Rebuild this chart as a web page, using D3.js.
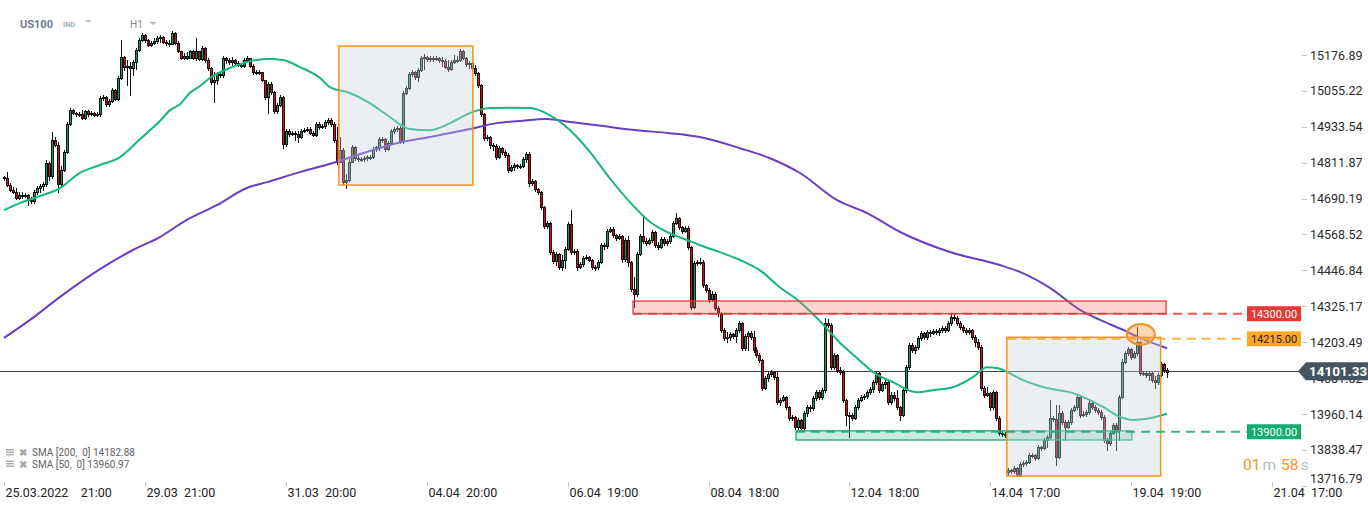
<!DOCTYPE html>
<html><head><meta charset="utf-8">
<script src="https://cdn.jsdelivr.net/npm/d3@7"></script>
<style>
html,body{margin:0;padding:0;background:#fff;overflow:hidden}
svg{display:block;font-family:Roboto,"Noto Sans",Arial,sans-serif}
</style></head><body>
<svg id="c" width="1368" height="509"></svg>
<script>
// ---- DATA (US100, H1) ----
const closes=[
14760,14736,14719,14712,14692,14702,14699,14702,14685,14682,
14712,14726,14733,14739,14811,14766,14888,14872,14739,14787,
14848,14943,14990,14980,14977,14977,14963,14987,14977,14980,
14973,14977,15031,15034,15010,15021,15058,15027,15099,15170,
15136,15139,15133,15153,15194,15227,15244,15227,15210,15217,
15224,15234,15238,15221,15217,15214,15251,15217,15190,15166,
15173,15166,15190,15166,15190,15163,15200,15160,15133,15085,
15092,15112,15109,15166,15160,15153,15160,15150,15143,15139,
15160,15166,15139,15119,15116,15119,15092,15034,15078,15051,
14987,15007,15034,14875,14919,14909,14912,14909,14899,14919,
14922,14926,14912,14905,14943,14933,14936,14950,14956,14943,
14888,14814,14855,14746,14753,14814,14865,14827,14824,14824,
14827,14831,14831,14858,14865,14892,14892,14858,14878,14919,
14926,14929,14885,15048,15065,15112,15119,15102,15126,15166,
15170,15163,15166,15163,15166,15160,15156,15136,15129,15153,
15160,15160,15190,15166,15146,15150,15133,15116,15075,14977,
14895,14899,14872,14868,14831,14861,14848,14838,14787,14797,
14804,14800,14800,14824,14841,14743,14750,14722,14712,14662,
14597,14607,14509,14478,14502,14458,14482,14519,14604,14509,
14512,14458,14468,14489,14492,14482,14458,14458,14475,14533,
14529,14580,14587,14567,14556,14563,14485,14550,14475,14384,
14367,14502,14563,14546,14540,14550,14577,14533,14526,14553,
14540,14546,14563,14607,14624,14594,14580,14590,14526,14323,
14472,14475,14475,14397,14380,14350,14367,14319,14302,14245,
14218,14221,14231,14224,14245,14268,14184,14224,14234,14221,
14177,14160,14143,14048,14082,14095,14102,14085,14001,14007,
14018,13984,13946,13950,13916,13940,13912,13963,13984,13980,
14014,14034,14018,14041,14268,14262,14119,14160,14109,14102,
14007,13957,13957,13946,13984,14007,14018,14021,14034,14045,
14068,14099,14041,14062,14068,14001,14024,14014,13984,13957,
14041,14119,14194,14177,14187,14218,14234,14221,14238,14234,
14241,14238,14245,14251,14245,14268,14289,14285,14268,14255,
14245,14238,14245,14221,14204,14187,14048,14024,14031,13984,
14034,13946,13896,13892,13889,
13770,13767,13777,13753,13790,13794,13797,13821,13821,13811,
13848,13845,13872,13882,13946,13943,13814,13963,13933,13916,
13933,13973,13984,14018,13957,13960,13967,13997,13984,13973,
13967,13950,13872,13862,13896,13923,13906,14018,14136,14167,
14180,14153,14167,14204,14099,14099,14092,14099,14075,14068,
14092,14129,14109,14101.33
];
const highs=[
14766,14780,14743,14729,14726,14712,14712,14709,14706,14695,
14719,14733,14739,14746,14821,14814,14916,14899,14882,14800,
14855,14950,14997,14994,14983,14983,14990,14990,14990,14987,
14983,14983,15038,15041,15038,15027,15065,15061,15105,15227,
15173,15160,15153,15160,15200,15234,15251,15248,15231,15224,
15234,15241,15244,15241,15227,15227,15258,15255,15224,15190,
15183,15187,15194,15194,15234,15177,15207,15204,15166,15136,
15119,15119,15119,15173,15170,15166,15170,15163,15156,15150,
15166,15173,15163,15146,15126,15126,15119,15089,15085,15085,
15055,15014,15041,15038,14926,14926,14919,14919,14919,14926,
14929,14933,14933,14919,14950,14950,14943,14956,14963,14963,
14950,14933,14899,14861,14773,14824,14872,14868,14841,14831,
14834,14838,14838,14865,14868,14899,14899,14895,14885,14926,
14933,14936,14936,15055,15072,15119,15126,15122,15133,15173,
15180,15173,15173,15173,15173,15170,15170,15163,15160,15160,
15177,15173,15197,15194,15170,15156,15153,15143,15119,15078,
14980,14905,14902,14878,14875,14868,14865,14855,14844,14804,
14811,14807,14807,14831,14848,14848,14756,14753,14726,14716,
14665,14614,14611,14516,14509,14506,14499,14526,14611,14651,
14519,14519,14475,14495,14499,14495,14485,14465,14482,14540,
14540,14587,14594,14594,14570,14570,14567,14556,14563,14478,
14424,14509,14570,14634,14556,14556,14584,14580,14543,14560,
14560,14553,14570,14614,14641,14628,14597,14597,14597,14529,
14478,14482,14489,14482,14400,14387,14377,14373,14326,14306,
14251,14238,14238,14234,14251,14275,14272,14231,14241,14241,
14241,14187,14167,14146,14089,14102,14109,14106,14102,14014,
14024,14021,13987,13957,13953,13946,13943,13970,13990,13990,
14021,14041,14041,14048,14285,14282,14268,14167,14163,14119,
14109,14011,13967,13963,13990,14014,14024,14028,14041,14051,
14075,14106,14102,14068,14075,14072,14034,14034,14041,13987,
14048,14126,14201,14201,14194,14224,14241,14238,14245,14245,
14248,14248,14251,14258,14258,14275,14302,14299,14292,14275,
14262,14251,14251,14248,14228,14214,14194,14055,14051,14034,
14041,14038,13953,13902,13899,
13777,13773,13784,13780,13797,13801,13804,13828,13828,13825,
13855,13851,13879,13889,14007,13953,13990,13990,13970,13940,
13940,13980,13990,14024,14021,13970,13973,14004,14004,13990,
13980,13973,13957,13879,13902,13929,13929,14024,14146,14173,
14187,14184,14173,14255,14207,14106,14106,14106,14102,14089,
14099,14136,14133,14116
];
const lows=[
14753,14733,14716,14709,14689,14689,14692,14695,14668,14675,
14675,14706,14712,14719,14733,14753,14760,14868,14712,14733,
14783,14844,14939,14977,14970,14970,14960,14960,14970,14973,
14970,14970,14970,15024,15004,15004,15017,15024,15024,15095,
15126,15075,15041,15109,15129,15190,15224,15221,15207,15207,
15214,15217,15221,15217,15210,15207,15214,15214,15187,15163,
15163,15163,15166,15163,15160,15160,15160,15153,15126,15078,
15017,15078,15102,15102,15150,15146,15139,15143,15139,15136,
15136,15153,15136,15112,15112,15112,15089,15027,14980,15044,
14980,14980,15004,14861,14868,14902,14905,14888,14882,14895,
14916,14919,14909,14902,14902,14926,14929,14929,14943,14936,
14882,14807,14821,14739,14726,14750,14814,14821,14817,14817,
14817,14821,14824,14827,14851,14855,14882,14851,14855,14875,
14912,14919,14878,14878,15044,15061,15105,15095,15089,15122,
15129,15156,15156,15156,15160,15153,15139,15133,15122,15126,
15150,15153,15156,15163,15139,15133,15126,15109,15068,14970,
14888,14888,14861,14855,14824,14827,14841,14831,14780,14783,
14787,14794,14794,14797,14814,14733,14736,14716,14706,14655,
14590,14590,14502,14472,14465,14451,14448,14455,14516,14502,
14502,14448,14455,14462,14485,14478,14451,14448,14451,14472,
14519,14523,14577,14560,14550,14553,14475,14478,14462,14377,
14323,14360,14499,14540,14533,14536,14543,14526,14519,14523,
14533,14533,14540,14560,14604,14587,14573,14577,14519,14316,
14319,14465,14468,14390,14373,14340,14343,14313,14292,14238,
14211,14204,14211,14218,14204,14238,14177,14177,14177,14214,
14170,14153,14136,14041,14045,14072,14089,14079,13994,13990,
14004,13977,13940,13940,13909,13909,13906,13906,13953,13970,
13973,14007,14011,14011,14034,14255,14112,14112,14102,14095,
14001,13923,13882,13940,13943,13977,14004,14011,14014,14028,
14034,14062,14034,14038,14048,13994,13994,14007,13977,13940,
13953,14034,14112,14170,14167,14180,14211,14214,14214,14224,
14231,14231,14228,14238,14238,14241,14262,14279,14262,14248,
14238,14231,14231,14214,14190,14180,14041,14018,14021,13973,
13977,13940,13889,13885,13882,
13757,13760,13760,13750,13750,13784,13787,13794,13814,13804,
13807,13838,13841,13848,13875,13936,13787,13811,13926,13872,
13912,13926,13970,13977,13950,13953,13953,13960,13977,13967,
13960,13943,13865,13838,13855,13892,13838,13872,14014,14133,
14160,14146,14150,14160,14092,14092,14085,14075,14068,14048,
14062,14089,14102,14085
];
// opens follow the previous close except at these session gaps
const gapOpens={0:14763,335:13763};
const lastPrice=14101.33;

// moving averages: [bar index, value]
const sma50=[[0,14651],[5.3,14675],[12,14699],[18.7,14726],[25.3,14777],[32,14804],[38.7,14831],[45.4,14892],[52,14953],[55.4,14990],[58.7,15010],[62,15048],[65.4,15072],[68.7,15099],[75.4,15133],[82,15156],[88.7,15163],[93,15160],[98.7,15136],[105.4,15099],[108.7,15068],[115.4,15048],[122,15014],[128.8,14966],[135.4,14926],[142,14922],[148.8,14946],[155.4,14980],[162,14997],[168.8,14998],[175.4,14997],[182,14973],[188.8,14922],[195.5,14848],[202,14760],[208.8,14678],[215.5,14611],[222,14573],[227.8,14550],[232,14533],[237.8,14512],[245.5,14482],[252,14448],[258.8,14390],[265.5,14340],[271.2,14285],[278.9,14201],[284.5,14150],[289.9,14102],[296.5,14068],[304.5,14034],[309.9,14041],[316.5,14051],[323.2,14085],[327.9,14119],[331.2,14116],[333.2,14109],[339.9,14075],[347.9,14048],[356.6,14031],[362.2,14007],[366.6,13984],[372.3,13950],[376.6,13940],[382.3,13946],[387.9,13961]];
const sma200=[[0,14218],[8.7,14279],[18.7,14357],[32,14451],[43,14516],[52,14560],[61,14618],[71,14668],[81,14726],[87.7,14746],[98.7,14780],[109.7,14811],[119.7,14844],[131,14878],[142,14899],[155.4,14926],[164.4,14946],[172,14953],[181,14960],[188.8,14950],[199.8,14936],[211,14922],[222,14912],[232,14899],[245.5,14861],[255.5,14827],[265.5,14777],[277.9,14685],[287.9,14641],[298.9,14577],[315.5,14509],[332.2,14465],[339,14441],[349,14387],[358.9,14313],[365.6,14279],[373.3,14245],[378.9,14218],[387.9,14183]];
const smaLegend=["SMA [200,  0] 14182.88","SMA [50,  0] 13960.97"];

const priceTicks=[15176.89,15055.22,14933.54,14811.87,14690.19,14568.52,14446.84,14325.17,14203.49,14081.82,13960.14,13838.47,13716.79];
const timeLabels=[[0,"25.03.2022","21:00"],[47,"29.03","21:00"],[94,"31.03","20:00"],[141,"04.04","20:00"],[188,"06.04","19:00"],[235,"08.04","18:00"],[282,"12.04","18:00"],[329,"14.04","17:00"],[376,"19.04","19:00"],[423,"21.04","17:00"]];

// drawn annotations (bar index / price)
const levels=[{v:14300,label:"14300.00",start:209.8},{v:14215,label:"14215.00",start:334.5},{v:13900,label:"13900.00",start:264.2}];
const zones=[{i0:209.8,i1:387.6,p0:14300,p1:14343},{i0:264.2,i1:376.2,p0:13872,p1:13903}];
const boxes=[{i0:111.7,i1:156.4,p0:14736,p1:15207},{i0:334.5,i1:385.8,p0:13750,p1:14220}];
const marker={i:379.2,p:14230};

// ---- STYLE ----
const UP="#139a63",DN="#e4051a",INK="#111";
const levelColors=["#e53935","#ffa726","#11ae72"];
const levelText=["#fff","#222","#fff"];
const zoneFill=["rgba(242,110,110,0.30)","rgba(40,180,130,0.25)"];
const zoneStroke=["#e53935","#14ad74"];

const svg=d3.select("#c");
const x=d3.scaleLinear().domain([0,423]).range([4,4+423*2.998]);
const y=d3.scaleLinear().domain([13716.79,15176.89]).range([485.8,55]);

const bars=closes.map((c,i)=>{
  const o=gapOpens[i]!==undefined?gapOpens[i]:closes[i-1];
  return {i,o,c,h:Math.max(highs[i],o,c),l:Math.min(lows[i],o,c)};
});

// current price line
const yLast=Math.round(y(lastPrice))-0.5;
svg.append("line").attr("x1",0).attr("x2",1300).attr("y1",yLast).attr("y2",yLast)
  .attr("stroke","#3c4248").attr("stroke-width",1);

// candles
const gC=svg.append("g");
bars.forEach(b=>{
  const cx=Math.round(x(b.i));
  gC.append("line").attr("x1",cx+0.5).attr("x2",cx+0.5)
    .attr("y1",Math.round(y(b.h))).attr("y2",Math.round(y(b.l))+1)
    .attr("stroke",INK).attr("stroke-width",1);
  const yt=Math.round(y(Math.max(b.o,b.c))), yb=Math.round(y(Math.min(b.o,b.c)));
  gC.append("rect").attr("x",cx-0.5).attr("y",yt+0.5).attr("width",2)
    .attr("height",Math.max(1,yb-yt))
    .attr("fill",b.c>=b.o?UP:DN).attr("stroke",INK).attr("stroke-width",1);
});

// SMA lines
const line=d3.line().x(d=>x(d[0])).y(d=>y(d[1])).curve(d3.curveMonotoneX);
svg.append("path").datum(sma200).attr("d",line).attr("fill","none")
  .attr("stroke","#6a3fc2").attr("stroke-width",2);
svg.append("path").datum(sma50).attr("d",line).attr("fill","none")
  .attr("stroke","#16b681").attr("stroke-width",2);

// zones
zones.forEach((z,k)=>{
  svg.append("rect").attr("x",x(z.i0)).attr("y",y(z.p1))
    .attr("width",x(z.i1)-x(z.i0)).attr("height",y(z.p0)-y(z.p1))
    .attr("fill",zoneFill[k]).attr("stroke",zoneStroke[k]).attr("stroke-width",1.3);
});
// boxes
boxes.forEach(bx=>{
  svg.append("rect").attr("x",x(bx.i0)).attr("y",y(bx.p1))
    .attr("width",x(bx.i1)-x(bx.i0)).attr("height",y(bx.p0)-y(bx.p1))
    .attr("fill","rgba(200,210,222,0.36)").attr("stroke","#f7911c").attr("stroke-width",1.5);
});
// marker ellipse
svg.append("ellipse").attr("cx",x(marker.i)).attr("cy",y(marker.p)).attr("rx",14).attr("ry",10.3)
  .attr("fill","rgba(250,165,80,0.42)").attr("stroke","#f39325").attr("stroke-width",2);

// dashed level lines
levels.forEach((lv,k)=>{
  const yy=y(lv.v);
  svg.append("line").attr("x1",x(lv.start)).attr("x2",1247).attr("y1",yy).attr("y2",yy)
    .attr("stroke",levelColors[k]).attr("stroke-width",2).attr("stroke-dasharray","9,6")
    .attr("stroke-opacity",0.85);
});

// right axis
const gA=svg.append("g");
priceTicks.forEach(v=>{
  const yy=y(v);
  gA.append("line").attr("x1",1302).attr("x2",1307).attr("y1",Math.round(yy)+0.5).attr("y2",Math.round(yy)+0.5)
    .attr("stroke","#c4c4c4");
  gA.append("text").attr("x",1310).attr("y",Math.min(yy,478.5)).attr("dy","0.36em")
    .attr("font-size",12.5).attr("fill","#2b2b2b").text(v.toFixed(2));
});

// level tags
levels.forEach((lv,k)=>{
  const yy=y(lv.v);
  svg.append("rect").attr("x",1247).attr("y",yy-7.5).attr("width",54).attr("height",15)
    .attr("fill",levelColors[k]);
  svg.append("text").attr("x",1274).attr("y",yy).attr("dy","0.36em").attr("text-anchor","middle")
    .attr("font-size",11).attr("fill",levelText[k]).text(lv.label);
});

// current price tag (covers the tick label beneath it, as in the original)
const yp=y(lastPrice)-1;
svg.append("path").attr("d",`M1298,${yp} L1306,${yp-9} L1368,${yp-9} L1368,${yp+9} L1306,${yp+9} Z`)
  .attr("fill","#46545f");
svg.append("text").attr("x",1309).attr("y",yp).attr("dy","0.37em").attr("font-size",13.5)
  .attr("font-weight","bold").attr("fill","#fff").text(lastPrice.toFixed(2));

// time axis
timeLabels.forEach(t=>{
  const xx=Math.round(x(t[0]))+0.5;
  svg.append("line").attr("x1",xx).attr("x2",xx).attr("y1",482).attr("y2",487).attr("stroke","#c4c4c4");
  const tx=svg.append("text").attr("x",xx+1).attr("y",497).attr("font-size",12.5).attr("fill","#222")
    .attr("xml:space","preserve").style("white-space","pre");
  tx.text(t[1]+(t[1].length>6?"    ":"  ")+t[2]);
});

// countdown
const cd=svg.append("text").attr("x",1243).attr("y",470).attr("font-size",15.5);
cd.append("tspan").attr("fill","#f7941d").text("01");
cd.append("tspan").attr("fill","#b5bdc5").attr("dx",2).text("m");
cd.append("tspan").attr("fill","#f7941d").attr("dx",5).text("58");
cd.append("tspan").attr("fill","#b5bdc5").attr("dx",2).text("s");

// legend
smaLegend.forEach((s,k)=>{
  const yy=456+k*11.5;
  const g=svg.append("g");
  [0,2.5,5].forEach(d=>g.append("rect").attr("x",6).attr("y",yy-7+d).attr("width",8).attr("height",1.4).attr("fill","#a9a9a9"));
  g.append("text").attr("x",19).attr("y",yy).attr("font-size",9.5).attr("fill","#a9a9a9").attr("font-weight","bold").text("✖");
  g.append("text").attr("x",32).attr("y",yy).attr("font-size",10).attr("fill","#5f5f5f").attr("xml:space","preserve").style("white-space","pre").text(s);
});

// header
svg.append("text").attr("x",20).attr("y",27.5).attr("font-size",11).attr("font-weight","bold").attr("fill","#6d7986").text("US100");
svg.append("text").attr("x",63).attr("y",27).attr("font-size",7.5).attr("font-weight","bold").attr("fill","#a3acb6").text("IND");
svg.append("path").attr("d","M85,20 L92,20 L88.5,23 Z").attr("fill","#b8c0c8");
svg.append("text").attr("x",130).attr("y",27.5).attr("font-size",10).attr("fill","#7f8b97").text("H1");
svg.append("path").attr("d","M149,22 L157,22 L153,25 Z").attr("fill","#b8c0c8");
</script>
</body></html>
